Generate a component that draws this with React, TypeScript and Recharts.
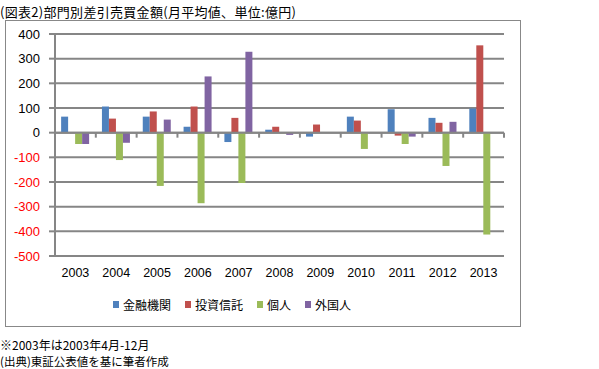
import { Bar, BarChart, CartesianGrid, ReferenceLine, XAxis, YAxis } from 'recharts'

const years = ['2003', '2004', '2005', '2006', '2007', '2008', '2009', '2010', '2011', '2012', '2013']
const financial = [65, 106, 65, 24, -38, 12, -16, 65, 95, 60, 98]
const trusts = [0, 57, 86, 106, 60, 24, 33, 49, -12, 40, 354]
const individuals = [-46, -111, -216, -286, -204, -2, 0, -66, -46, -135, -413]
const foreigners = [-46, -41, 53, 228, 328, -9, 0, 0, -16, 44, 0]
const yTicks = [400, 300, 200, 100, 0, -100, -200, -300, -400, -500]

const SERIES = [
  { key: 'financial', name: '金融機関', color: '#4F81BD' },
  { key: 'trusts', name: '投資信託', color: '#C0504D' },
  { key: 'individuals', name: '個人', color: '#9BBB59' },
  { key: 'foreigners', name: '外国人', color: '#8064A2' },
]

const GRID = '#868686'
const JP = '"Noto Sans CJK JP", "Noto Sans", sans-serif'
const NUM = '"Liberation Sans", "Noto Sans", sans-serif'

const chartData = years.map((y, i) => ({
  year: y,
  financial: financial[i],
  trusts: trusts[i],
  individuals: individuals[i],
  foreigners: foreigners[i],
}))

// y tick: negatives are red
const YTick = (props: any) => {
  const { x, y, payload } = props
  return (
    <text x={x} y={y} dy="0.36em" textAnchor="end" fontSize={13} fontFamily={NUM} fill={payload.value < 0 ? '#FF0000' : '#000'}>
      {payload.value}
    </text>
  )
}

// zero line with tick marks between categories (Excel style)
const ZeroLine = (props: any) => {
  const { x1, y1, x2 } = props
  const step = (x2 - x1) / years.length
  return (
    <g>
      <line x1={x1} y1={y1} x2={x2} y2={y1} stroke={GRID} strokeWidth={2} />
      {years.concat(['']).map((_, i) => (
        <line key={i} x1={x1 + i * step} y1={y1} x2={x1 + i * step} y2={y1 + 5} stroke={GRID} strokeWidth={2} />
      ))}
    </g>
  )
}

export default function App() {
  return (
    <div style={{ position: 'absolute', left: 0, top: 0, width: 599, height: 369, background: '#fff', fontFamily: JP }}>
      <div style={{ position: 'absolute', left: 0, top: 2, fontSize: 13, letterSpacing: 0.3, color: '#000', whiteSpace: 'nowrap' }}>
        (図表2)部門別差引売買金額(月平均値、単位:億円)
      </div>
      <div
        style={{
          position: 'absolute',
          left: 5,
          top: 20,
          width: 516,
          height: 307,
          border: '1px solid #888',
          boxSizing: 'border-box',
        }}
      />
      <div style={{ position: 'absolute', left: 5, top: 20 }}>
        <BarChart
          width={515}
          height={306}
          data={chartData}
          margin={{ top: 14, right: 16, left: 0, bottom: 0 }}
          barCategoryGap="15%"
          barGap={0}
        >
          <CartesianGrid vertical={false} stroke={GRID} strokeWidth={2} />
          <XAxis
            dataKey="year"
            axisLine={false}
            tickLine={false}
            tickSize={0}
            tickMargin={12}
            height={70}
            interval={0}
            tick={{ fill: '#000', fontSize: 12.5, fontFamily: NUM }}
          />
          <YAxis
            width={50}
            domain={[-500, 400]}
            ticks={yTicks}
            interval={0}
            axisLine={{ stroke: GRID, strokeWidth: 2 }}
            tickLine={{ stroke: GRID, strokeWidth: 2 }}
            tickSize={6}
            tickMargin={9}
            tick={<YTick />}
          />
          <ReferenceLine y={0} shape={<ZeroLine />} />
          {SERIES.map((s) => (
            <Bar key={s.key} dataKey={s.key} name={s.name} fill={s.color} isAnimationActive={false} />
          ))}
        </BarChart>
      </div>
      <div
        style={{
          position: 'absolute',
          left: 113,
          top: 296,
          display: 'flex',
          alignItems: 'center',
          fontSize: 12,
          color: '#000',
          whiteSpace: 'nowrap',
        }}
      >
        {SERIES.map((s) => (
          <div key={s.key} style={{ display: 'flex', alignItems: 'center', marginRight: 14 }}>
            <span style={{ display: 'inline-block', width: 6, height: 7, background: s.color, marginRight: 4 }} />
            <span>{s.name}</span>
          </div>
        ))}
      </div>
      <div style={{ position: 'absolute', left: 0, top: 337, fontSize: 12, color: '#000', lineHeight: '16px', whiteSpace: 'nowrap' }}>
        <div>※2003年は2003年4月-12月</div>
        <div style={{ fontSize: 11.5 }}>(出典)東証公表値を基に筆者作成</div>
      </div>
    </div>
  )
}
